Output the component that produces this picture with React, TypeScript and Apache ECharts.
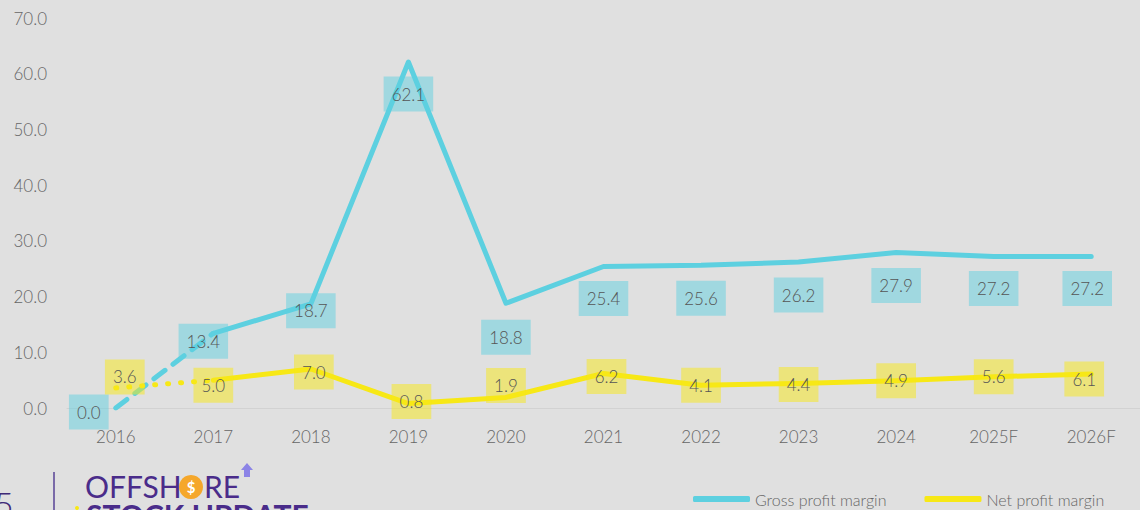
import React, { useEffect, useRef } from "react";
import * as echarts from "echarts";

const years = ["2016", "2017", "2018", "2019", "2020", "2021", "2022", "2023", "2024", "2025F", "2026F"];
const grossMargin = [0.0, 13.4, 18.7, 62.1, 18.8, 25.4, 25.6, 26.2, 27.9, 27.2, 27.2];
const netMargin = [3.6, 5.0, 7.0, 0.8, 1.9, 6.2, 4.1, 4.4, 4.9, 5.6, 6.1];
const yTicks = [0, 10, 20, 30, 40, 50, 60, 70];

// label offsets (style only)
const grossLabelOffsets = [[-27, 4], [-10, 8], [0, 7], [0, 32], [0, 34], [0, 32], [0, 33], [0, 33], [0, 33], [0, 32], [-4, 32]];
const netLabelOffsets = [[9, -11], [0, 5], [3, 3], [3, -2], [0, -12], [3, 3], [0, 0], [0, 1], [0, 0], [0, 0], [-7, 5]];

const GROSS = "#5dd0e0";
const NET = "#f7e816";
const GROSS_BOX = "rgba(93,208,224,0.49)";
const NET_BOX = "rgba(247,232,22,0.5)";
const FONT = "Lato";

export default function App() {
  const ref = useRef<HTMLDivElement>(null);
  useEffect(() => {
    if (!ref.current) return;
    const chart = echarts.init(ref.current, null, { renderer: "svg" });
    const labelBase = {
      show: true,
      position: "inside",
      color: "#555",
      fontSize: 17,
      fontWeight: 300,
      fontFamily: FONT,
      padding: [9, 8],
      formatter: (p: any) => Number(p.value).toFixed(1),
    };
    const grossData = grossMargin.map((v, i) => ({
      value: i === 0 ? "-" : v,
      label: { ...labelBase, backgroundColor: GROSS_BOX, offset: grossLabelOffsets[i] },
    }));
    const netData = netMargin.map((v, i) => ({
      value: i === 0 ? "-" : v,
      label: { ...labelBase, backgroundColor: NET_BOX, offset: netLabelOffsets[i] },
    }));
    const grossStart = grossMargin.map((v, i) => (i <= 1 ? v : "-"));
    const netStart = netMargin.map((v, i) => (i <= 1 ? v : "-"));
    chart.setOption({
      animation: false,
      backgroundColor: "#e0e0e0",
      textStyle: { fontFamily: FONT },
      grid: { left: 67, top: 18, width: 1100, bottom: 102, containLabel: false },
      legend: {
        data: ["Gross profit margin", "Net profit margin"],
        left: 688,
        top: 486,
        icon: "roundRect",
        itemWidth: 57,
        itemHeight: 6,
        itemGap: 38,
        textStyle: { color: "#666", fontSize: 16, fontWeight: 300, fontFamily: FONT },
      },
      xAxis: {
        type: "category",
        data: years,
        boundaryGap: true,
        axisLine: { show: true, lineStyle: { color: "#d2d2d2", width: 1 } },
        axisTick: { show: false },
        axisLabel: { color: "#666", fontSize: 17, fontWeight: 300, fontFamily: FONT, margin: 20 },
        splitLine: { show: false },
      },
      yAxis: {
        type: "value",
        min: yTicks[0],
        max: yTicks[yTicks.length - 1],
        interval: 10,
        axisLine: { show: false },
        axisTick: { show: false },
        splitLine: { show: false },
        axisLabel: { color: "#666", fontSize: 17, fontWeight: 300, fontFamily: FONT, margin: 20, formatter: (v: number) => v.toFixed(1) },
      },
      series: [
        {
          name: "gross-start",
          type: "line",
          data: grossStart,
          symbol: "none",
          lineStyle: { color: GROSS, width: 5, type: [14, 10], cap: "round" },
          z: 2,
        },
        {
          name: "net-start",
          type: "line",
          data: netStart,
          symbol: "none",
          lineStyle: { color: NET, width: 5, type: [1, 12], cap: "round" },
          z: 2,
        },
        {
          name: "Gross profit margin",
          type: "line",
          data: grossData,
          itemStyle: { color: GROSS },
          symbol: "circle",
          symbolSize: 0.01,
          showSymbol: true,
          smooth: false,
          lineStyle: { color: GROSS, width: 5, cap: "round", join: "round" },
          z: 3,
        },
        {
          name: "Net profit margin",
          type: "line",
          data: netData,
          itemStyle: { color: NET },
          symbol: "circle",
          symbolSize: 0.01,
          showSymbol: true,
          smooth: false,
          lineStyle: { color: NET, width: 5, cap: "round", join: "round" },
          z: 3,
        },
        {
          name: "gross-first-label",
          type: "line",
          data: grossMargin.map((v, i) => (i === 0 ? v : "-")),
          symbol: "circle",
          symbolSize: 0.01,
          lineStyle: { width: 0 },
          itemStyle: { color: GROSS },
          label: { ...labelBase, backgroundColor: GROSS_BOX, offset: grossLabelOffsets[0] },
          z: 4,
        },
        {
          name: "net-first-label",
          type: "line",
          data: netMargin.map((v, i) => (i === 0 ? v : "-")),
          symbol: "circle",
          symbolSize: 0.01,
          lineStyle: { width: 0 },
          itemStyle: { color: NET },
          label: { ...labelBase, backgroundColor: NET_BOX, offset: netLabelOffsets[0] },
          z: 4,
        },
      ],
      graphic: [
        { type: "text", left: -6, top: 486, style: { text: "5", font: "300 34px Lato", fill: "#3f2a78" } },
        { type: "line", shape: { x1: 54, y1: 472, x2: 54, y2: 512 }, style: { stroke: "#7a6aa8", lineWidth: 2 } },
        { type: "text", x: 85, y: 471, style: { text: "OFFSH", font: "30px Lato", fill: "#4a2c8a" } },
        { type: "circle", shape: { cx: 191, cy: 487, r: 12 }, style: { fill: "#f5a72b" } },
        { type: "text", x: 191, y: 487, style: { text: "$", font: "bold 15px Lato", fill: "#fff", align: "center", verticalAlign: "middle" } },
        { type: "text", x: 204, y: 471, style: { text: "RE", font: "30px Lato", fill: "#4a2c8a" } },
        { type: "polygon", shape: { points: [[247, 463], [253, 470], [250, 470], [250, 477], [244, 477], [244, 470], [241, 470]] }, style: { fill: "#8c84e6" } },
        { type: "circle", shape: { cx: 77, cy: 508, r: 2 }, style: { fill: "#f7e816" } },
        { type: "text", x: 86, y: 500, style: { text: "STOCK UPDATE", font: "bold 30px Lato", fill: "#4a2c8a" } },
      ],
    });
    return () => chart.dispose();
  }, []);
  return <div ref={ref} style={{ position: "absolute", left: 0, top: 0, width: 1140, height: 510 }} />;
}
